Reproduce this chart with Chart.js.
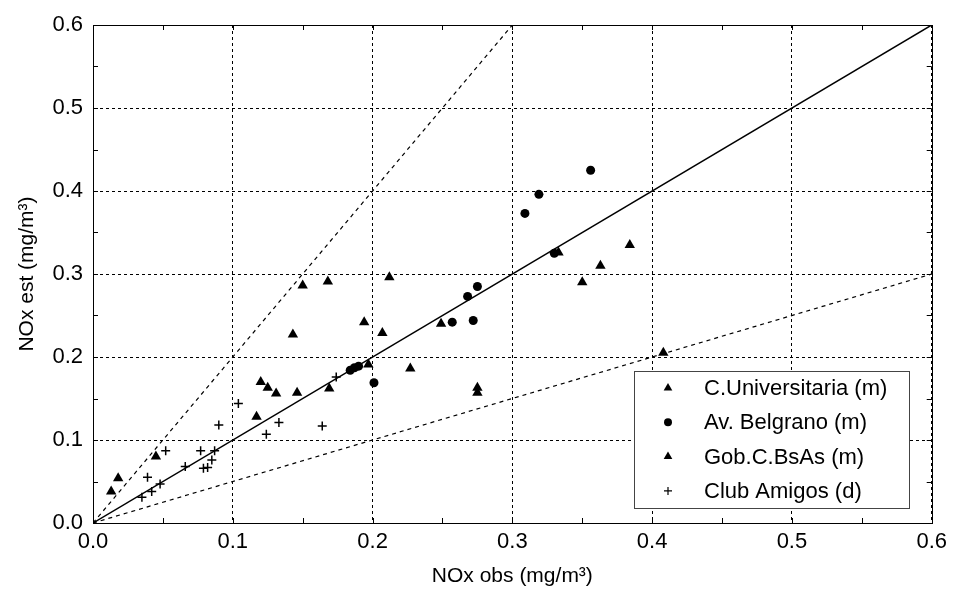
<!DOCTYPE html>
<html>
<head>
<meta charset="utf-8">
<title>NOx obs vs NOx est</title>
<script src="https://cdn.jsdelivr.net/npm/chart.js@4.4.0/dist/chart.umd.min.js"></script>
<style>
  html, body { margin: 0; padding: 0; background: #fff; }
  #wrap { width: 953px; height: 593px; }
</style>
</head>
<body>
<div id="wrap"><canvas id="noxCanvas"></canvas></div>
<script>
// valores (mg/m3)
const uniObs = [0.013, 0.018, 0.045, 0.143, 0.150, 0.168, 0.194, 0.207, 0.212, 0.249, 0.333, 0.350, 0.363, 0.384, 0.408];
const uniEst = [0.038, 0.054, 0.080, 0.227, 0.286, 0.291, 0.242, 0.229, 0.296, 0.240, 0.326, 0.290, 0.310, 0.335, 0.205];

const belObs = [0.184, 0.187, 0.190, 0.201, 0.257, 0.268, 0.272, 0.275, 0.309, 0.319, 0.330, 0.356];
const belEst = [0.184, 0.187, 0.189, 0.169, 0.242, 0.273, 0.244, 0.285, 0.373, 0.396, 0.325, 0.425];

const gobObs = [0.117, 0.120, 0.125, 0.131, 0.146, 0.169, 0.197, 0.227, 0.275, 0.275];
const gobEst = [0.128, 0.170, 0.163, 0.156, 0.157, 0.162, 0.191, 0.186, 0.163, 0.157];

const clubObs = [0.035, 0.039, 0.042, 0.048, 0.052, 0.066, 0.077, 0.079, 0.082, 0.085, 0.087, 0.090, 0.104, 0.124, 0.133, 0.164, 0.174];
const clubEst = [0.031, 0.055, 0.038, 0.047, 0.087, 0.068, 0.087, 0.066, 0.067, 0.076, 0.087, 0.118, 0.144, 0.107, 0.121, 0.117, 0.176];

// rectas de referencia 1:1, 2:1 y 1:2
const lineaIgual = [[0, 0], [0.6, 0.6]];
const lineaDoble = [[0, 0], [0.3, 0.6]];
const lineaMitad = [[0, 0], [0.6, 0.3]];

const tickLabels = ['0.0', '0.1', '0.2', '0.3', '0.4', '0.5', '0.6'];
const minorTicks = [0.05, 0.1, 0.15, 0.2, 0.25, 0.3, 0.35, 0.4, 0.45, 0.5, 0.55];

const toPoints = (xs, ys) => xs.map((x, i) => ({ x: x, y: ys[i] }));
const toLine = pairs => pairs.map(p => ({ x: p[0], y: p[1] }));

Chart.defaults.font.family = '"Liberation Sans", Arial, sans-serif';
Chart.defaults.color = '#000';

function drawMarker(ctx, style, r, x, y, lw) {
    ctx.beginPath();
    if (style === 'triangle') {
        let rad = 0;
        ctx.moveTo(x + Math.sin(rad) * r, y - Math.cos(rad) * r);
        rad += Math.PI * 2 / 3;
        ctx.lineTo(x + Math.sin(rad) * r, y - Math.cos(rad) * r);
        rad += Math.PI * 2 / 3;
        ctx.lineTo(x + Math.sin(rad) * r, y - Math.cos(rad) * r);
        ctx.closePath();
        ctx.fill();
    } else if (style === 'circle') {
        ctx.arc(x, y, r, 0, Math.PI * 2);
        ctx.fill();
    } else {
        ctx.lineWidth = lw;
        ctx.moveTo(x - r, y); ctx.lineTo(x + r, y);
        ctx.moveTo(x, y - r); ctx.lineTo(x, y + r);
        ctx.stroke();
    }
}

// marco y marcas menores hacia adentro en los cuatro lados
const frameTicks = {
    id: 'frameTicks',
    afterDatasetsDraw(chart) {
        const { ctx, chartArea: a, scales } = chart;
        const len = 5;
        ctx.save();
        ctx.strokeStyle = '#000';
        ctx.lineWidth = 1;
        ctx.strokeRect(Math.round(a.left) + 0.5, Math.round(a.top) + 0.5, Math.round(a.right - a.left), Math.round(a.bottom - a.top));
        ctx.beginPath();
        minorTicks.forEach(v => {
            const px = Math.round(scales.x.getPixelForValue(v)) + 0.5;
            const py = Math.round(scales.y.getPixelForValue(v)) + 0.5;
            ctx.moveTo(px, a.bottom); ctx.lineTo(px, a.bottom - len);
            ctx.moveTo(px, a.top); ctx.lineTo(px, a.top + len);
            ctx.moveTo(a.left, py); ctx.lineTo(a.left + len, py);
            ctx.moveTo(a.right, py); ctx.lineTo(a.right - len, py);
        });
        ctx.stroke();
        ctx.restore();
    }
};

// leyenda dentro del area de trazado
const insideLegend = {
    id: 'insideLegend',
    afterDraw(chart) {
        const { ctx, chartArea: a } = chart;
        const w = 275, h = 137;
        const x0 = Math.round(a.right - 23 - w);
        const y0 = Math.round(a.bottom - 15 - h);
        ctx.save();
        ctx.fillStyle = '#fff';
        ctx.fillRect(x0, y0, w, h);
        ctx.strokeStyle = '#444';
        ctx.lineWidth = 1;
        ctx.strokeRect(x0 + 0.5, y0 + 0.5, w, h);
        ctx.font = '22px "Liberation Sans", Arial, sans-serif';
        ctx.textBaseline = 'middle';
        let row = 0;
        chart.data.datasets.forEach(ds => {
            if (!ds.legendMark) return;
            const cy = y0 + 17 + row * 34.3;
            ctx.fillStyle = '#000';
            ctx.strokeStyle = '#000';
            drawMarker(ctx, ds.pointStyle, ds.legendMark, x0 + 34, cy, 1.2);
            ctx.fillStyle = '#000';
            ctx.fillText(ds.label, x0 + 70, cy + 1);
            row++;
        });
        ctx.restore();
    }
};

const noxChart = new Chart(document.getElementById('noxCanvas'), {
    type: 'scatter',
    data: {
        datasets: [
            {
                label: 'C.Universitaria (m)',
                data: toPoints(uniObs, uniEst),
                pointStyle: 'triangle',
                pointRadius: 6,
                backgroundColor: '#000',
                borderColor: '#000',
                borderWidth: 0,
                legendMark: 5
            },
            {
                label: 'Av. Belgrano (m)',
                data: toPoints(belObs, belEst),
                pointStyle: 'circle',
                pointRadius: 4.5,
                backgroundColor: '#000',
                borderColor: '#000',
                borderWidth: 0,
                legendMark: 4
            },
            {
                label: 'Gob.C.BsAs (m)',
                data: toPoints(gobObs, gobEst),
                pointStyle: 'triangle',
                pointRadius: 6,
                backgroundColor: '#000',
                borderColor: '#000',
                borderWidth: 0,
                legendMark: 5
            },
            {
                label: 'Club Amigos (d)',
                data: toPoints(clubObs, clubEst),
                pointStyle: 'cross',
                pointRadius: 4.5,
                backgroundColor: '#000',
                borderColor: '#000',
                borderWidth: 1.5,
                legendMark: 4
            },
            {
                label: '1:1',
                data: toLine(lineaIgual),
                showLine: true,
                pointRadius: 0,
                borderColor: '#000',
                borderWidth: 1.5
            },
            {
                label: '2:1',
                data: toLine(lineaDoble),
                showLine: true,
                pointRadius: 0,
                borderColor: '#000',
                borderWidth: 1.2,
                borderDash: [4, 4]
            },
            {
                label: '1:2',
                data: toLine(lineaMitad),
                showLine: true,
                pointRadius: 0,
                borderColor: '#000',
                borderWidth: 1.2,
                borderDash: [4, 4]
            }
        ]
    },
    options: {
        responsive: true,
        maintainAspectRatio: false,
        animation: false,
        events: [],
        layout: { padding: { left: 0, right: 17, top: 25, bottom: 0 } },
        plugins: {
            legend: { display: false },
            tooltip: { enabled: false }
        },
        scales: {
            x: {
                type: 'linear',
                min: 0,
                max: 0.6,
                ticks: {
                    stepSize: 0.1,
                    autoSkip: false,
                    maxRotation: 0,
                    padding: 6,
                    font: { size: 22 },
                    callback: (v, i) => tickLabels[i]
                },
                grid: { color: '#000', lineWidth: 1, drawTicks: false },
                border: { color: '#000', width: 1, dash: [3, 3] },
                title: {
                    display: true,
                    text: 'NOx obs (mg/m³)',
                    font: { size: 21 },
                    padding: { top: 0, bottom: 4 }
                },
                afterFit: s => { s.height = 70; }
            },
            y: {
                type: 'linear',
                min: 0,
                max: 0.6,
                ticks: {
                    stepSize: 0.1,
                    autoSkip: false,
                    padding: 10,
                    font: { size: 22 },
                    callback: (v, i) => tickLabels[i]
                },
                grid: { color: '#000', lineWidth: 1, drawTicks: false },
                border: { color: '#000', width: 1, dash: [3, 3] },
                title: {
                    display: true,
                    text: 'NOx est (mg/m³)',
                    font: { size: 21 },
                    padding: { top: 15, bottom: 0 }
                },
                afterFit: s => { s.width = 93; }
            }
        }
    },
    plugins: [frameTicks, insideLegend]
});
</script>
</body>
</html>
